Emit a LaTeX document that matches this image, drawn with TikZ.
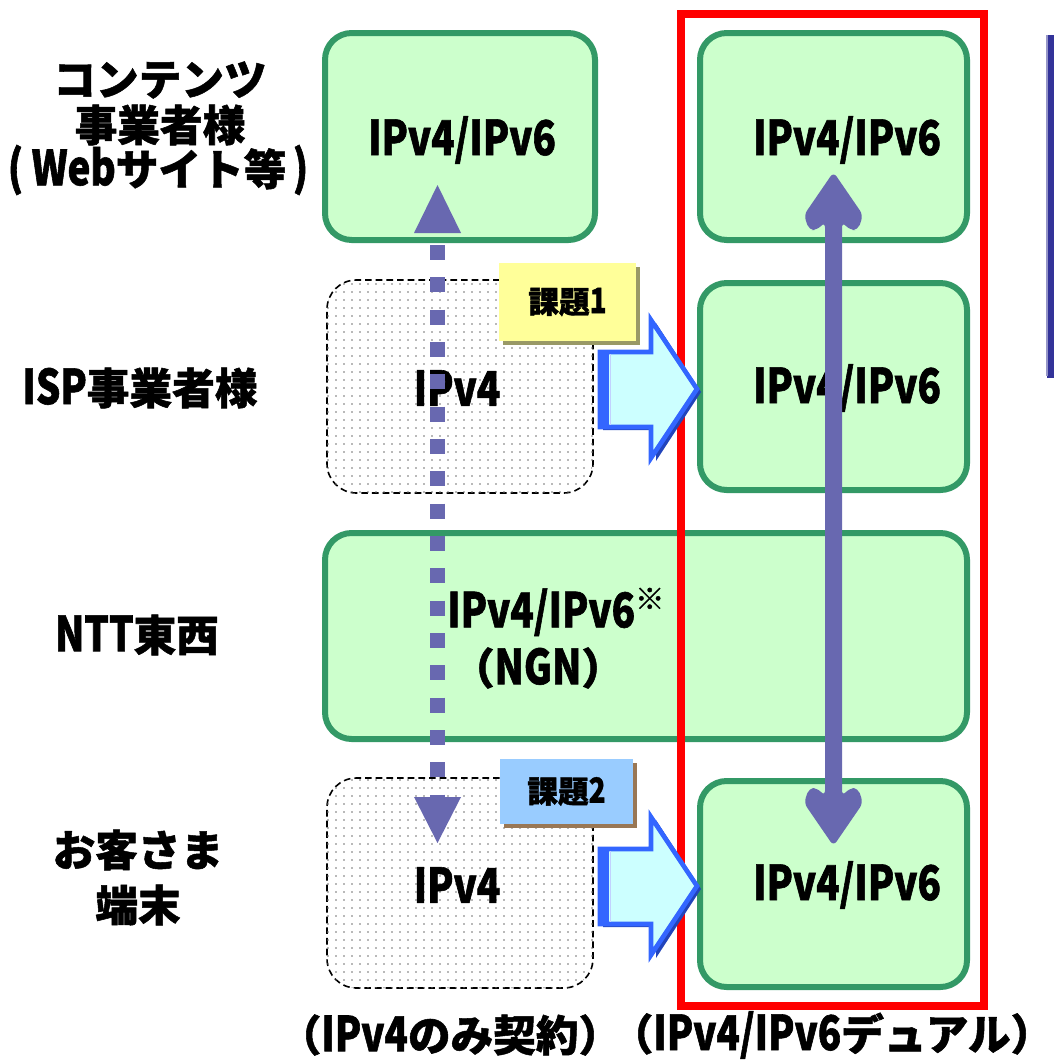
\documentclass[tikz,border=0pt]{standalone}
\usepackage{fontspec}
\newfontfamily\jp{Noto Sans CJK JP}[BoldFeatures={FakeBold=1.2}]
\newfontfamily\latfont{Noto Sans CJK JP}[FakeStretch=0.8, BoldFeatures={FakeBold=1.2}]
\newcommand\myLat[1]{{\latfont\bfseries\fontsize{36}{36}\selectfont #1}}
\newcommand\myLatS[1]{{\latfont\bfseries\fontsize{26}{26}\selectfont #1}}
\usetikzlibrary{patterns.meta}
\definecolor{gfill}{HTML}{CCFFCC}
\definecolor{gline}{HTML}{339966}
\definecolor{afill}{HTML}{CCFFFF}
\definecolor{aline}{HTML}{3366FF}
\definecolor{ashadow}{HTML}{2244BB}
\definecolor{arrcol}{RGB}{104,104,176}
\definecolor{k1fill}{HTML}{FFFF99}
\definecolor{k1shadow}{HTML}{999966}
\definecolor{k2fill}{HTML}{99CCFF}
\definecolor{k2shadow}{HTML}{997755}
\begin{document}
\begin{tikzpicture}[x=0.75pt,y=-0.75pt,
  greenbox/.style={draw=gline, line width=4.5pt, fill=gfill, rounded corners=20pt, inner sep=0},
  dashbox/.style={draw=black, line width=1.2pt, dash pattern=on 5pt off 3pt, rounded corners=22pt, fill=white,
    postaction={pattern={Dots[distance=6pt,radius=0.6pt]}, pattern color=black!55}, inner sep=0},
  lbl/.style={font=\jp\bfseries\fontsize{32}{36}\selectfont, align=center, inner sep=0},
  klbl/.style={font=\jp\bfseries\fontsize{23}{26}\selectfont, inner sep=0},
  blockarrow/.style={fill=afill, draw=aline, line width=3.5pt, line join=miter},
  dotshaft/.style={draw=arrcol, line width=11.25pt, dash pattern=on 11.25pt off 13pt},
]
\useasboundingbox (0,0) rectangle (1054,1060);

% dashed (IPv4 only) boxes
\node[dashbox, minimum width=199.5pt, minimum height=159.75pt] (ispL) at (460,386.5) {};
\node[dashbox, minimum width=199.5pt, minimum height=157.5pt] (cliL) at (460,883) {};

% green boxes
\node[greenbox, minimum width=202.5pt, minimum height=155.25pt] (cntL) at (460,136.5) {};
\node[greenbox, minimum width=200.25pt, minimum height=155.25pt] (cntR) at (833.5,136.5) {};
\node[greenbox, minimum width=200.25pt, minimum height=155.25pt] (ispR) at (833.5,386.5) {};
\node[greenbox, minimum width=481.5pt, minimum height=154.5pt] (ngn) at (646,636) {};
\node[greenbox, minimum width=200.25pt, minimum height=154.5pt] (cliR) at (833.5,884) {};

% red frame
\draw[red, line width=6pt] (681,14) rectangle (984,1006);

% partial box at right edge
\fill[fill={rgb,255:red,51;green,51;blue,153}] (1047,35) rectangle (1054,378);
\fill[fill={rgb,255:red,150;green,150;blue,200}] (1046,35) rectangle (1048,376);

% texts in boxes
\node[lbl] (tA) at (462,140) {\myLat{IPv4/IPv6}};
\node[lbl] (tB) at (847,140) {\myLat{IPv4/IPv6}};
\node[lbl] (tC) at (457,388) {\myLat{IPv4}};
\node[lbl] (tD) at (847,388) {\myLat{IPv4/IPv6}};
\node[lbl, anchor=west] (tE) at (447,612) {\myLat{IPv4/IPv6}\raisebox{0.42em}{\fontsize{22}{22}\selectfont ※}};
\node[lbl] (tF) at (538,668) {（\myLat{NGN}）};
\node[lbl] (tG) at (457,885) {\myLat{IPv4}};
\node[lbl] (tH) at (847,885) {\myLat{IPv4/IPv6}};

% left labels
\node[lbl] (l1a) at (160,80) {コンテンツ};
\node[lbl] (l1b) at (160,125) {事業者様};
\node[lbl] (l1c) at (158,170) {\myLat{(}\kern0.2em\myLat{Web}サイト等\kern0.15em\myLat{)}};
\node[lbl] (l2) at (140,388) {\myLat{ISP}事業者様};
\node[lbl] (l3) at (137,635) {\myLat{NTT}東西};
\node[lbl] (l4a) at (138,850) {お客さま};
\node[lbl] (l4b) at (138,905) {端末};

% bottom labels
\node[lbl] (b1) at (450,1035) {（\myLat{IPv4}のみ契約）};
\node[lbl] (b2) at (832,1035) {（\myLat{IPv4/IPv6}デュアル）};

% issue labels
\fill[k1shadow] (503,267) rectangle (640,345);
\node[fill=k1fill, minimum width=102.75pt, minimum height=58.5pt, inner sep=0] (k1) at (567.5,302) {};
\node[klbl] (k1t) at (k1) {課題\myLatS{1}};
\fill[k2shadow] (504,763) rectangle (637,828);
\node[fill=k2fill, minimum width=99.75pt, minimum height=48.75pt, inner sep=0] (k2) at (566.5,791.5) {};
\node[klbl] (k2t) at (k2) {課題\myLatS{2}};

% block arrows
\foreach \dy/\nm in {0/ar1, 497/ar2}{
  \begin{scope}[yshift=-\dy*0.75pt]
    \fill[ashadow] (603,355) -- (656,355) -- (656,323) -- (701,392) -- (656,461) -- (656,430) -- (603,430) -- cycle;
    \draw[blockarrow] (600,352) -- (651,352) -- (651,320) -- (697,389) -- (651,458) -- (651,427) -- (600,427) -- cycle;
    \fill[aline] (598,350) rectangle (609,429);
    \fill[white!70!aline] (609.5,354) rectangle (611,425);
    \coordinate (\nm) at (697,389);
  \end{scope}
}

% dotted one-way (IPv4 only) arrow
\coordinate (dTop) at (437.5,185);
\coordinate (dBot) at (437.5,843);
\coordinate (dS1) at (437.5,245);
\coordinate (dS2) at (437.5,797);
\draw[dotshaft] (dS1) -- (dS2);
\fill[arrcol] (dTop) -- (461,233) -- (414,233) -- cycle;
\fill[arrcol] (dBot) -- (461,797) -- (414,797) -- cycle;

% dual-stack double arrow
\coordinate (rTop) at (833.5,172);
\coordinate (rBot) at (833.5,846);
\fill[arrcol, rounded corners=4pt] (rTop) -- (863,215) -- (858,230) -- (850,230) -- (842,222)
  -- (842,796) -- (850,788) -- (858,788) -- (863,803) -- (rBot) -- (804,803) -- (809,788) -- (817,788)
  -- (825,796) -- (825,222) -- (817,230) -- (809,230) -- (804,215) -- cycle;
\end{tikzpicture}
\end{document}
